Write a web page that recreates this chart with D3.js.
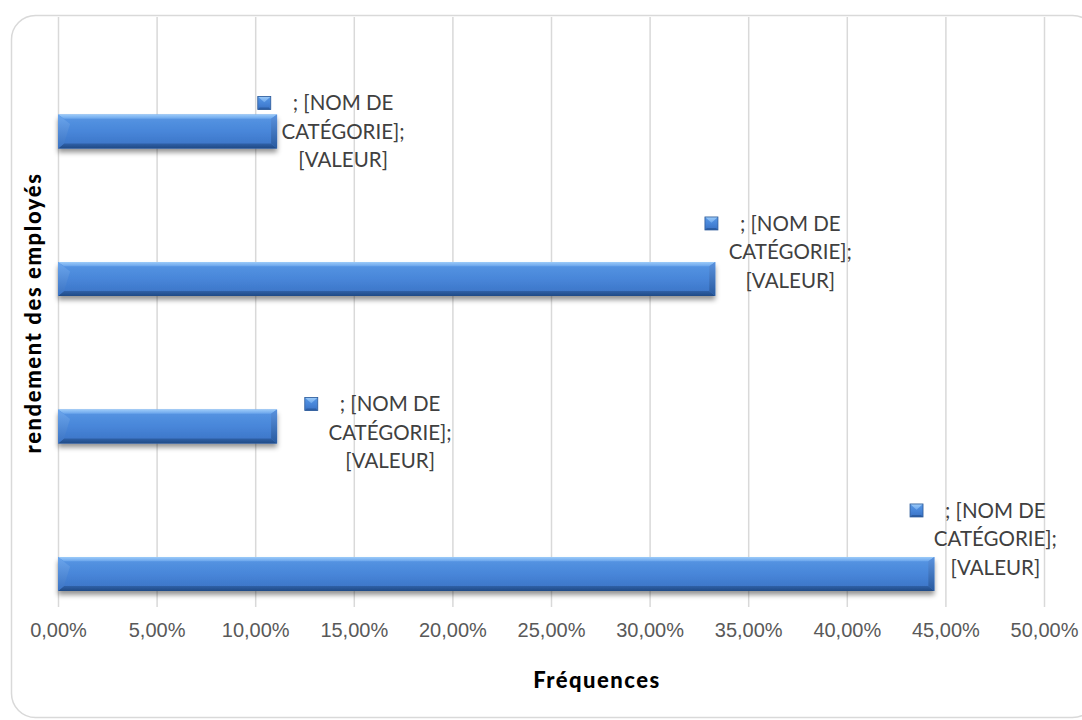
<!DOCTYPE html>
<html>
<head>
<meta charset="utf-8">
<script src="https://cdn.jsdelivr.net/npm/d3@7/dist/d3.min.js"></script>
<style>
  html, body { margin: 0; padding: 0; background: #ffffff; }
  svg { display: block; }
</style>
</head>
<body>
<script>
// Employee performance categories, bottom to top
const categories = ["Catégorie 1", "Catégorie 2", "Catégorie 3", "Catégorie 4"];
// Relative frequency of each category
const frequences = [0.4444, 0.1111, 0.3333, 0.1111];
// Value axis ticks
const tickValues = [0, 0.05, 0.10, 0.15, 0.20, 0.25, 0.30, 0.35, 0.40, 0.45, 0.50];
// Data label template lines
const labelLines = ["; [NOM DE", "CATÉGORIE];", "[VALEUR]"];

// Layout: label offsets from the bar end / bar centre, per category
const labelNudge = [
  { dx: 61, dy: -35 },
  { dx: 113, dy: 6 },
  { dx: 75, dy: -27 },
  { dx: 66, dy: 0 }
];

const W = 1082, H = 720;
const plot = { left: 58, right: 1044, top: 17, bottom: 607 };

const svg = d3.select("body").append("svg")
  .attr("width", W).attr("height", H)
  .attr("font-family", "Lato, 'Open Sans', sans-serif");

const defs = svg.append("defs");

function vGrad(id, stops) {
  const g = defs.append("linearGradient").attr("id", id)
    .attr("x1", 0).attr("y1", 0).attr("x2", 0).attr("y2", 1);
  stops.forEach(([o, c]) => g.append("stop").attr("offset", o).attr("stop-color", c));
}
vGrad("bodyGrad", [[0, "#5897e4"], [0.5, "#4886d9"], [1, "#3a72c4"]]);
vGrad("topGrad", [[0, "#9ccbf9"], [1, "#6aa5ec"]]);
vGrad("botGrad", [[0, "#2f60a6"], [1, "#1f4a86"]]);
vGrad("leftGrad", [[0, "#6ea8ee"], [1, "#3a72c2"]]);
vGrad("rightGrad", [[0, "#5a92de"], [1, "#295a9f"]]);

const shadow = defs.append("filter").attr("id", "barShadow")
  .attr("x", "-5%").attr("y", "-30%").attr("width", "110%").attr("height", "180%");
shadow.append("feDropShadow").attr("dx", 0).attr("dy", 4)
  .attr("stdDeviation", 2.6).attr("flood-color", "#000").attr("flood-opacity", 0.42);

// Chart frame with rounded corners
svg.append("rect")
  .attr("x", 11.5).attr("y", 15.5)
  .attr("width", 1085).attr("height", 702)
  .attr("rx", 24).attr("ry", 24)
  .attr("fill", "#ffffff").attr("stroke", "#d9d9d9").attr("stroke-width", 1.5);

// Scales
const x = d3.scaleLinear().domain([0, 0.5]).range([plot.left, plot.right]);
const y = d3.scaleBand().domain(categories).range([plot.bottom, plot.top]);

const frFormat = d3.formatLocale({
  decimal: ",", thousands: "\u00a0", grouping: [3], currency: ["", " €"]
}).format(".2%");

// Vertical gridlines + tick labels through a bottom axis
const xAxis = d3.axisBottom(x)
  .tickValues(tickValues)
  .tickSize(plot.bottom - plot.top)
  .tickPadding(16)
  .tickFormat(frFormat);

const axisG = svg.append("g")
  .attr("transform", `translate(0,${plot.top})`)
  .call(xAxis);
axisG.select(".domain").remove();
axisG.selectAll(".tick line")
  .attr("stroke", "#d9d9d9").attr("stroke-width", 1.5);
axisG.selectAll(".tick text")
  .attr("fill", "#595959")
  .attr("font-size", 20)
  .attr("dy", "0.71em");

// Bars with bevelled faces
const bw = y.bandwidth();
const barOff = bw * 0.661, barH = bw * 0.23;
const B = 6;

const bars = svg.append("g").selectAll("g.bar")
  .data(categories.map((c, i) => ({ c, v: frequences[i], i })))
  .join("g").attr("class", "bar");

bars.each(function (d) {
  const g = d3.select(this);
  const x0 = x(0), x1 = x(d.v);
  const y0 = y(d.c) + barOff, y1 = y0 + barH;
  const pts = a => a.map(p => p.join(",")).join(" ");
  g.append("rect")
    .attr("x", x0).attr("y", y0).attr("width", x1 - x0).attr("height", barH)
    .attr("fill", "url(#bodyGrad)").attr("filter", "url(#barShadow)");
  g.append("polygon").attr("fill", "url(#topGrad)")
    .attr("points", pts([[x0, y0], [x1, y0], [x1 - B, y0 + B * 0.7], [x0 + B, y0 + B * 0.7]]));
  g.append("polygon").attr("fill", "url(#botGrad)")
    .attr("points", pts([[x0, y1], [x1, y1], [x1 - B, y1 - B * 0.8], [x0 + B, y1 - B * 0.8]]));
  g.append("polygon").attr("fill", "url(#leftGrad)").attr("opacity", 0.9)
    .attr("points", pts([[x0, y0], [x0 + B * 2, y0 + B * 1.6], [x0 + B, y1 - B * 0.8], [x0, y1]]));
  g.append("polygon").attr("fill", "url(#rightGrad)")
    .attr("points", pts([[x1, y0], [x1 - B, y0 + B * 0.7], [x1 - B, y1 - B * 0.8], [x1, y1]]));
});

// Data labels: legend key + three centred lines
const lineGap = 28.5;
bars.each(function (d) {
  const g = d3.select(this);
  const cx = x(d.v) + labelNudge[d.i].dx;
  const cy = y(d.c) + barOff + barH / 2 + labelNudge[d.i].dy;
  let firstWidth = 0;
  labelLines.forEach((t, k) => {
    const txt = g.append("text")
      .attr("x", cx).attr("y", cy + (k - 1) * lineGap)
      .attr("dy", "0.35em")
      .attr("text-anchor", "middle")
      .attr("font-size", 20.5)
      .attr("fill", "#404040")
      .text(t);
    if (k === 0) firstWidth = txt.node().getComputedTextLength();
  });
  const s = 13;
  const mx = cx - firstWidth / 2 - 22 - s;
  const my = cy - lineGap - s / 2;
  const key = g.append("g");
  key.append("rect").attr("x", mx).attr("y", my).attr("width", s).attr("height", s)
    .attr("fill", "url(#bodyGrad)");
  key.append("polygon").attr("fill", "url(#topGrad)")
    .attr("points", `${mx},${my} ${mx + s},${my} ${mx + s / 2},${my + s * 0.45}`);
  key.append("polygon").attr("fill", "#2c5ea5")
    .attr("points", `${mx},${my + s} ${mx + s},${my + s} ${mx + s - 2},${my + s - 2} ${mx + 2},${my + s - 2}`);
  key.append("rect").attr("x", mx).attr("y", my).attr("width", s).attr("height", s)
    .attr("fill", "none").attr("stroke", "#2d5a98").attr("stroke-width", 0.8);
});

// Axis titles
svg.append("text")
  .attr("x", 597).attr("y", 688)
  .attr("text-anchor", "middle")
  .attr("font-size", 22).attr("font-weight", 900).attr("fill", "#000")
  .attr("letter-spacing", 1.5)
  .text("Fréquences");

svg.append("text")
  .attr("transform", "translate(41,313) rotate(-90)")
  .attr("text-anchor", "middle")
  .attr("font-size", 22).attr("font-weight", 900).attr("fill", "#000")
  .attr("letter-spacing", 1.6)
  .text("rendement des employés");
</script>
</body>
</html>
